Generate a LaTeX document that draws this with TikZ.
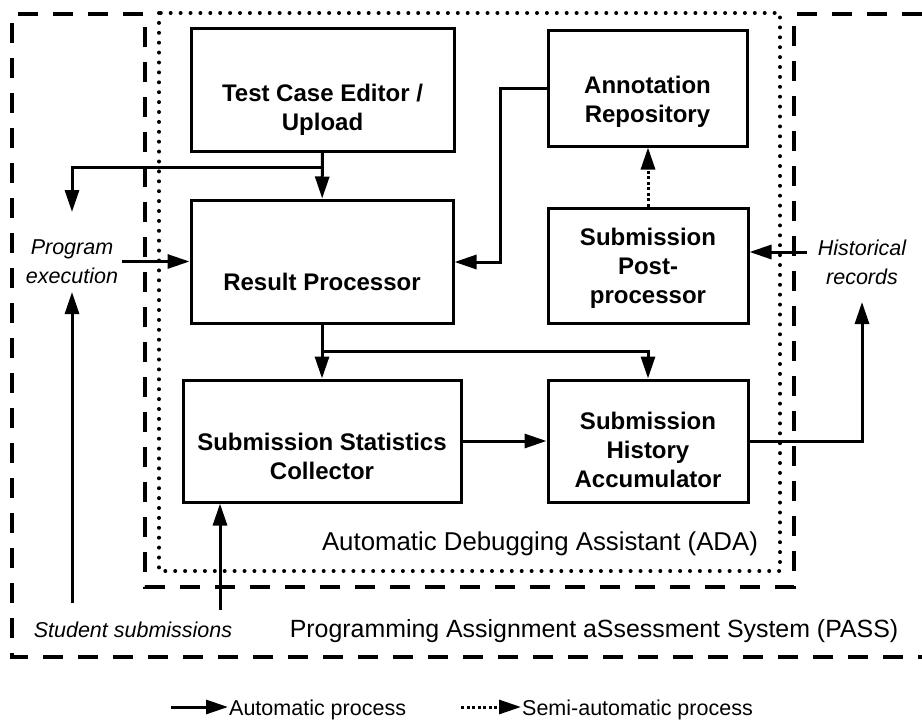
\documentclass[tikz,border=0pt]{standalone}
\usepackage{fontspec}
\setmainfont{Liberation Sans}
\usetikzlibrary{arrows.meta}

\tikzset{
  block/.style={draw, line width=3pt, inner sep=0pt},
  blocktext/.style={font=\bfseries\fontsize{24}{29}\selectfont, align=center},
  extlabel/.style={font=\itshape\fontsize{21.5}{29}\selectfont, align=center, inner sep=4pt},
  legendtext/.style={font=\fontsize{21.5}{26}\selectfont, inner sep=1pt},
  flow/.style={line width=3pt, -{Triangle[length=22pt,width=14pt]}},
  semiflow/.style={flow, dash pattern=on 3pt off 2.5pt},
  adaframe/.style={line width=4pt, dash pattern=on 0pt off 9.9pt, line cap=round},
  passframe/.style={line width=4.2pt, dash pattern=on 20pt off 15pt},
}

\begin{document}
\begin{tikzpicture}[x=1pt,y=-1pt]
    \useasboundingbox (0,0) rectangle (922,720);

    % PASS and ADA frames
    \draw[passframe] (922,14) -- (794,14) -- (794,587) -- (145,587) -- (145,14)
        -- (12,14) -- (12,657) -- (922,657);
    \draw[adaframe] (159,13) rectangle (780,571);

    % blocks
    \node[block, minimum width=263pt, minimum height=123pt] (tc) at (322.5,89.5) {};
    \node[block, minimum width=199pt, minimum height=116pt] (ar) at (647.5,88) {};
    \node[block, minimum width=262pt, minimum height=123pt] (rp) at (322,261.5) {};
    \node[block, minimum width=200pt, minimum height=115pt] (pp) at (648,265.5) {};
    \node[block, minimum width=278pt, minimum height=122pt] (col) at (322,441) {};
    \node[block, minimum width=200pt, minimum height=122pt] (acc) at (648,441) {};

    \node[blocktext] (tc-t) at (322.5,110) {Test Case Editor /\\Upload};
    \node[blocktext] (ar-t) at (647.5,102) {Annotation\\Repository};
    \node[blocktext] (rp-t) at (322,281.5) {Result Processor};
    \node[blocktext] (pp-t) at (648,268.5) {Submission\\Post-\\processor};
    \node[blocktext] (col-t) at (322,456.5) {Submission Statistics\\Collector};
    \node[blocktext] (acc-t) at (648,450) {Submission\\History\\Accumulator};

    % outside sources and sinks
    \node[extlabel] (prog) at (72,261.5) {Program\\execution};
    \node[extlabel] (hist) at (862,262) {Historical\\records};
    \node[extlabel, anchor=base] (stud) at (133,637) {Student submissions};

    \node[font=\fontsize{25.8}{30}\selectfont, anchor=base] (ada) at (540,550) {Automatic Debugging Assistant (ADA)};
    \node[font=\fontsize{24.9}{30}\selectfont, anchor=base] (pass) at (594,637) {Programming Assignment aSsessment System (PASS)};

    \coordinate (tcsplit) at (322,167);
    \coordinate (pein) at (72,212);
    \coordinate (peout) at (72,292);
    \coordinate (studl) at (72,603);
    \coordinate (studr) at (220,610);
    \coordinate (arbend) at (500,262);
    \coordinate (hin) at (807,252);
    \coordinate (rpsplit) at (322,351);
    \coordinate (hout) at (862,302);

    % connectors
    \path[flow]
    (tc) edge (rp)
    (rp) edge (col)
    (col) edge (acc);
    \draw[flow] (tcsplit) -| (pein);
    \draw[flow] (prog.east) -- (prog.east -| rp.west);
    \draw[flow] (studl) -- (peout);
    \draw[flow] (studr) -- (studr |- col.south);
    \draw[flow] (ar.west) -| (arbend) -- (arbend -| rp.east);
    \draw[semiflow] (pp.north) -- (pp.north |- ar.south);
    \draw[flow] (hin) -- (hin -| pp.east);
    \draw[flow] (rpsplit) -| (acc.north);
    \draw[flow] (acc.east) -| (hout);

    % legend
    \node[legendtext, anchor=base west] (auto) at (228,715) {Automatic process};
    \node[legendtext, anchor=base west] (semi) at (521,715) {Semi-automatic process};
    \coordinate (autostart) at (171,707);
    \coordinate (semistart) at (461,707);
    \draw[flow] (autostart) -- (autostart -| auto.west);
    \draw[semiflow] (semistart) -- (semistart -| semi.west);
\end{tikzpicture}
\end{document}
